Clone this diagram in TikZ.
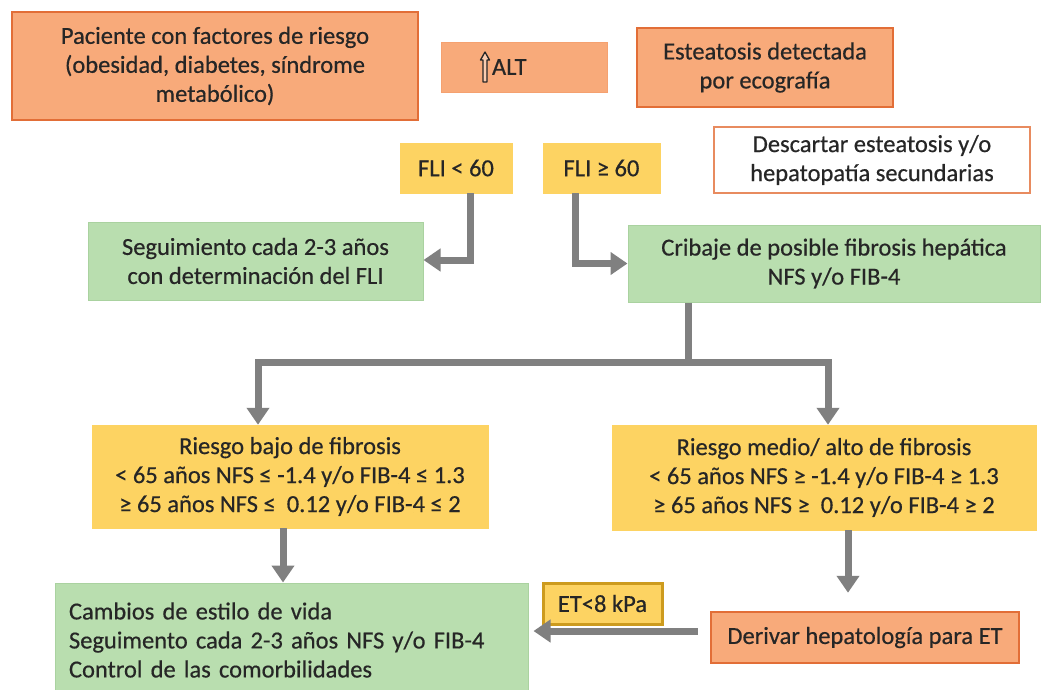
\documentclass[tikz,border=0pt]{standalone}
\usepackage{fontspec}
\setmainfont{Carlito}[FakeBold=0.5]
\usetikzlibrary{arrows.meta}
\definecolor{orfill}{RGB}{248,170,122}
\definecolor{ordraw}{RGB}{226,110,55}
\definecolor{yelfill}{RGB}{253,211,98}
\definecolor{yeldraw}{RGB}{205,155,30}
\definecolor{grnfill}{RGB}{185,222,175}
\definecolor{grndraw}{RGB}{170,210,160}
\definecolor{conn}{RGB}{128,128,128}
\definecolor{txt}{RGB}{38,38,38}
\tikzset{
  box/.style={rectangle, inner sep=0pt, align=center, text=txt,
    font=\fontsize{24.5}{29}\selectfont},
  orbox/.style={box, fill=orfill, draw=ordraw, line width=2.5pt},
  altbox/.style={box, fill=orfill, draw=orfill!85!ordraw, line width=1pt},
  whbox/.style={box, fill=white, draw=ordraw!80, line width=1.5pt},
  yelbox/.style={box, fill=yelfill, draw=yelfill, line width=0.5pt},
  etbox/.style={box, fill=yelfill, draw=yeldraw, line width=3pt},
  grnbox/.style={box, fill=grnfill, draw=grndraw, line width=1pt},
  link/.style={draw=conn, line width=7pt},
  arr/.style={link, -{Triangle[width=22pt,length=17pt]}}
}
\begin{document}
\begin{tikzpicture}[x=1pt,y=-1pt]
\useasboundingbox[fill=white] (0,0) rectangle (1049,689);
% top row
\node[orbox, minimum width=406pt, minimum height=108pt] (pac) at (215,66)
  {Paciente con factores de riesgo\\(obesidad, diabetes, síndrome\\metabólico)};
\node[altbox, minimum width=166pt, minimum height=50pt, text width=166pt, align=left] (alt) at (524,67)
  {\hspace*{51pt}ALT};
\begin{scope}[shift={(alt.west)}]
  \draw[draw=txt, fill=orfill!60!white, line width=1.3pt, line join=round]
    (42.5,15) -- (42.5,-7) -- (40,-7) -- (44.5,-15) -- (49,-7) -- (46.5,-7) -- (46.5,15) -- cycle;
\end{scope}
\node[orbox, minimum width=256pt, minimum height=79pt] (est) at (765,67.5)
  {Esteatosis detectada\\por ecografía};
\node[whbox, minimum width=316pt, minimum height=66pt] (desc) at (872,160)
  {Descartar esteatosis y/o\\hepatopatía secundarias};
% FLI
\node[yelbox, minimum width=112pt, minimum height=50pt] (fli1) at (456,168) {FLI < 60};
\node[yelbox, minimum width=117pt, minimum height=50pt] (fli2) at (601.5,168) {FLI ≥ 60};
% green
\node[grnbox, minimum width=335pt, minimum height=78pt] (seg) at (255.5,261)
  {Seguimiento cada 2-3 años\\con determinación del FLI};
\node[grnbox, minimum width=412pt, minimum height=77pt] (crib) at (834,263.5)
  {Cribaje de posible fibrosis hepática\\NFS y/o FIB-4};
% risk
\node[yelbox, minimum width=396pt, minimum height=103pt] (bajo) at (290,476.5)
  {Riesgo bajo de fibrosis\\< 65 años NFS ≤ -1.4 y/o FIB-4 ≤ 1.3\\≥ 65 años NFS ≤\ \ 0.12 y/o FIB-4 ≤ 2};
\node[yelbox, minimum width=424pt, minimum height=105pt] (medio) at (824,477.5)
  {Riesgo medio/ alto de fibrosis\\< 65 años NFS ≥ -1.4 y/o FIB-4 ≥ 1.3\\≥ 65 años NFS ≥\ \ 0.12 y/o FIB-4 ≥ 2};
% bottom
\node[grnbox, minimum width=473pt, minimum height=114pt, text width=445pt, align=left] (camb) at (291.5,640)
  {Cambios de estilo de vida\\Seguimento cada 2-3 años NFS y/o FIB-4\\Control de las comorbilidades};
\node[etbox, minimum width=119pt, minimum height=41pt] (et) at (602.5,603.5) {ET<8 kPa};
\node[orbox, minimum width=308pt, minimum height=51pt] (der) at (865,637.5)
  {Derivar hepatología para ET};
% connectors
\draw[arr] ([xshift=14pt]fli1.south) |- ([yshift=1pt]seg.east);
\draw[arr] ([xshift=-26.5pt]fli2.south) |- (crib.west);
\coordinate (split) at ([xshift=-146pt, yshift=-60pt]crib.south);
\draw[link] ([xshift=-146pt]crib.south) -- ([yshift=-3.5pt]split);
\draw[arr] ([xshift=3.5pt]split) -| ([xshift=-32pt]bajo.north);
\draw[arr] ([xshift=-3.5pt]split) -| ([xshift=4pt]medio.north);
\draw[arr] ([xshift=-7pt]bajo.south) -- ([xshift=-8.5pt]camb.north);
\draw[arr, shorten >=18pt] ([xshift=24pt]medio.south) -- ([xshift=-17pt]der.north);
\draw[arr, shorten <=12pt, shorten >=5pt] ([yshift=6.5pt]der.west) -- ([yshift=6.5pt]der.west -| camb.east);
\end{tikzpicture}
\end{document}
